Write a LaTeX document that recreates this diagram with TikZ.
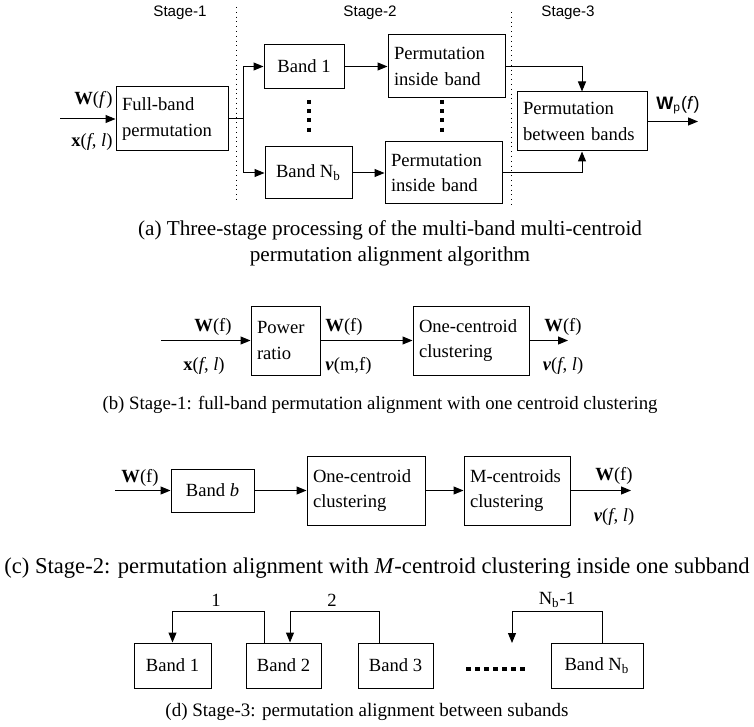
\documentclass[tikz,border=0pt]{standalone}
\usepackage{fontspec}
\setmainfont{Liberation Serif}
\setsansfont{Liberation Sans}
\usetikzlibrary{arrows.meta}
\begin{document}
\begin{tikzpicture}[x=0.5pt,y=-0.5pt,
  every node/.style={inner sep=0pt},
  box/.style={draw, line width=0.5pt, inner xsep=3pt, align=left, font=\fontsize{9.3}{12.8}\selectfont},
  cbox/.style={draw, line width=0.5pt, align=center, font=\fontsize{9.3}{12.8}\selectfont},
  arr/.style={-{Triangle[length=5pt,width=4pt]}, line width=0.5pt},
  ln/.style={line width=0.5pt},
  lbl/.style={font=\fontsize{9.3}{11}\selectfont},
  stagelbl/.style={font=\sffamily\fontsize{7.6}{9}\selectfont},
  vdots/.style={line width=2pt, dash pattern=on 2pt off 2.6pt},
  hdots/.style={line width=2pt, dash pattern=on 2.5pt off 2pt},
  sepline/.style={dotted, line width=0.4pt},
  captxt/.style={align=center}
]
\useasboundingbox (0,0) rectangle (754,727);

% ---------------- (a) ----------------
\node[stagelbl] (s1) at (180,13) {Stage-1};
\node[stagelbl] (s2) at (370,13) {Stage-2};
\node[stagelbl] (s3) at (568,13) {Stage-3};
\draw[sepline] (236,7) -- (236,203);
\draw[sepline] (511,12) -- (511,208);

\node[box, minimum height=32pt, text width=50pt] (full) at (172,119) {Full-band\\permutation};
\node[cbox, minimum width=40pt, minimum height=22pt] (band1) at (304,66.5) {Band 1};
\node[cbox, minimum width=43.5pt, minimum height=26pt] (bandN) at (308.5,173) {Band N\textsubscript{b}};
\node[box, minimum height=31.5pt, text width=52.5pt] (perm1) at (446.5,66.5) {Permutation\\inside band};
\node[box, minimum height=31pt, text width=52.5pt] (perm2) at (443.5,173) {Permutation\\inside band};
\node[box, minimum height=29.5pt, text width=59pt] (betw) at (582,121.5) {Permutation\\between bands};

\coordinate (ina) at (60,119);
\coordinate (fk) at (243,119);
\coordinate (outa) at (698,121.5);
\draw[arr] (ina) -- (full);
\draw[ln] (full.east) -- (fk);
\draw[arr] (fk) |- (band1.west);
\draw[arr] (fk) |- (bandN.west);
\draw[arr] (band1) -- (perm1);
\draw[arr] (bandN) -- (perm2);
\draw[arr] (perm1.east) -| (betw.north);
\draw[arr] (perm2.east) -| (betw.south);
\draw[arr] (betw) -- (outa);

\node[lbl, anchor=east] (lwa) at (113,100) {\textbf{W}(\textit{f})};
\node[lbl, anchor=east] (lxa) at (113,142) {\textbf{x}(\textit{f}, \textit{l})};
\node[font=\sffamily\fontsize{9}{11}\selectfont] (lwp) at (678,105) {\textbf{W}\textsubscript{p}(\textit{f})};

\draw[vdots] (309,100) -- (309,133);
\draw[vdots] (442,100) -- (442,133);

\node[captxt, font=\fontsize{10.6}{13}\selectfont] (capa) at (390,243) {(a) Three-stage processing of the multi-band multi-centroid\\permutation alignment algorithm};

% ---------------- (b) ----------------
\node[box, minimum height=34.5pt, text width=28.5pt] (pr) at (285.5,340.5) {Power\\ratio};
\node[box, minimum height=34.5pt, text width=52pt] (oc) at (471,340.5) {One-centroid\\clustering};
\coordinate (inb) at (161,340.5);
\coordinate (outb) at (568,340.5);
\draw[arr] (inb) -- (pr);
\draw[arr] (pr) -- (oc);
\draw[arr] (oc) -- (outb);
\node[lbl] (lwb1) at (213,327) {\textbf{W}(f)};
\node[lbl] (lxb1) at (204,366) {\textbf{x}(\textit{f}, \textit{l})};
\node[lbl, anchor=west] (lwb2) at (325,327) {\textbf{W}(f)};
\node[lbl, anchor=west] (lvb2) at (325,366) {\textbf{\textit{v}}(m,f)};
\node[lbl] (lwb3) at (563,327) {\textbf{W}(f)};
\node[lbl] (lvb3) at (563,366) {\textbf{\textit{v}}(\textit{f}, \textit{l})};

\node[captxt, font=\fontsize{9.4}{12}\selectfont] (capb) at (380,405) {(b) Stage-1: full-band permutation alignment with one centroid clustering};

% ---------------- (c) ----------------
\node[cbox, minimum width=41.5pt, minimum height=21.5pt] (bb) at (212.5,490.5) {Band \textit{b}};
\node[box, minimum height=34.5pt, text width=53pt] (oc2) at (366,490.5) {One-centroid\\clustering};
\node[box, minimum height=34.5pt, text width=47pt] (mc) at (517,490.5) {M-centroids\\clustering};
\coordinate (inc) at (115,490.5);
\coordinate (outc) at (631,490.5);
\draw[arr] (inc) -- (bb);
\draw[arr] (bb) -- (oc2);
\draw[arr] (oc2) -- (mc);
\draw[arr] (mc) -- (outc);
\node[lbl] (lwc1) at (140,478) {\textbf{W}(f)};
\node[lbl] (lwc2) at (614,476) {\textbf{W}(f)};
\node[lbl] (lvc2) at (614,517) {\textbf{\textit{v}}(\textit{f}, \textit{l})};

\node[captxt, font=\fontsize{11.3}{13}\selectfont] (capc) at (377,568) {(c) Stage-2: permutation alignment with \textit{M}-centroid clustering inside one subband};

% ---------------- (d) ----------------
\node[cbox, minimum width=38.5pt, minimum height=22.5pt] (b1) at (172.5,665.5) {Band 1};
\node[cbox, minimum width=37.5pt, minimum height=22.5pt] (b2) at (283.5,665.5) {Band 2};
\node[cbox, minimum width=37.5pt, minimum height=22.5pt] (b3) at (395.5,665.5) {Band 3};
\node[cbox, minimum width=46pt, minimum height=22.5pt] (bN) at (597,665.5) {Band N\textsubscript{b}};
\coordinate (t3) at (512,643);
\draw[arr] ([xshift=9.5pt]b2.north west) -- ++(0,-31) -| (b1.north);
\draw[arr] ([xshift=11pt]b3.north west) -- ++(0,-31) -| ([xshift=3.25pt]b2.north);
\draw[arr] ([xshift=26pt]bN.north west) -- ++(0,-31) -| (t3);
\node[lbl] (l1) at (216,600) {1};
\node[lbl] (l2) at (332,600) {2};
\node[lbl] (l3) at (557,600) {N\textsubscript{b}-1};
\draw[hdots] (466,669) -- (525,669);

\node[captxt, font=\fontsize{9.5}{12}\selectfont] (capd) at (367,712) {(d) Stage-3: permutation alignment between subands};
\end{tikzpicture}
\end{document}
